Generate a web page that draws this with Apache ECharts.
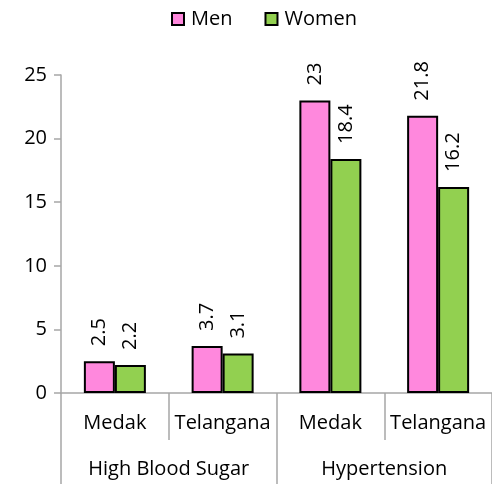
<!DOCTYPE html>
<html>
<head>
<meta charset="utf-8">
<script src="https://cdn.jsdelivr.net/npm/echarts@6/dist/echarts.min.js"></script>
<style>
  html, body { margin: 0; padding: 0; background: #fff; }
  #chart { width: 492px; height: 484px; }
</style>
</head>
<body>
<div id="chart"></div>
<script>
// data
var places = ['Medak', 'Telangana', 'Medak', 'Telangana'];
var groups = ['High Blood Sugar', 'Hypertension'];
var men = [2.5, 3.7, 23, 21.8];
var women = [2.2, 3.1, 18.4, 16.2];

var font = 'Open Sans';
var fs = 20;
var axisGrey = '#a6a6a6';

var barLabel = {
    show: true,
    position: 'top',
    distance: 15,
    rotate: 90,
    align: 'left',
    verticalAlign: 'middle',
    color: '#000',
    fontFamily: font,
    fontSize: fs
};

var chart = echarts.init(document.getElementById('chart'));
chart.setOption({
    animation: false,
    textStyle: { fontFamily: font },
    legend: {
        top: 4,
        left: 166,
        icon: 'rect',
        itemWidth: 12,
        itemHeight: 12,
        itemGap: 32,
        textStyle: { fontFamily: font, fontSize: fs, color: '#000', padding: [0, 0, 0, 2] },
        data: ['Men', 'Women']
    },
    grid: { left: 61, top: 75, right: -5, bottom: 91, containLabel: false },
    xAxis: [{
        type: 'category',
        data: places,
        axisLine: { lineStyle: { color: axisGrey, width: 1.5 } },
        axisTick: { show: true, interval: 0, length: 47, lineStyle: { color: axisGrey, width: 1.5 } },
        axisLabel: { interval: 0, margin: 20, color: '#000', fontFamily: font, fontSize: fs }
    }, {
        type: 'category',
        data: groups,
        position: 'bottom',
        offset: 47,
        axisLine: { show: false },
        axisTick: { show: true, interval: 0, length: 44, lineStyle: { color: axisGrey, width: 1.5 } },
        axisLabel: { interval: 0, margin: 19, color: '#000', fontFamily: font, fontSize: fs }
    }],
    yAxis: {
        type: 'value',
        min: 0,
        max: 25,
        interval: 5,
        splitLine: { show: false },
        axisLine: { show: true, lineStyle: { color: axisGrey, width: 1.5 } },
        axisTick: { show: true, length: 7, lineStyle: { color: axisGrey, width: 1.5 } },
        axisLabel: { margin: 14, color: '#000', fontFamily: font, fontSize: fs }
    },
    series: [{
        name: 'Men',
        type: 'bar',
        data: men,
        barWidth: 31,
        barGap: '0%',
        itemStyle: { color: '#ff88dd', borderColor: '#000', borderWidth: 2 },
        label: barLabel
    }, {
        name: 'Women',
        type: 'bar',
        data: women,
        barWidth: 31,
        itemStyle: { color: '#92d050', borderColor: '#000', borderWidth: 2 },
        label: barLabel
    }]
});
</script>
</body>
</html>
